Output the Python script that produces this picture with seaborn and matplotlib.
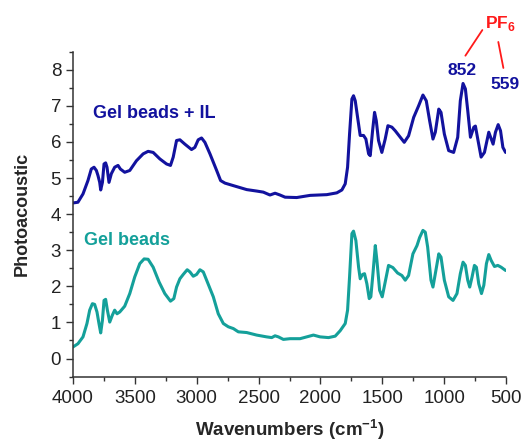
import numpy as np
import pandas as pd
import matplotlib
matplotlib.use("Agg")
import matplotlib.pyplot as plt
import seaborn as sns

# Photoacoustic FTIR spectra (wavenumber in cm-1, signal offset for display)
wn_il = [4000, 3960, 3919, 3879, 3852, 3830, 3811, 3798, 3784, 3776, 3762, 3749, 3736,
         3725, 3709, 3690, 3663, 3636, 3617, 3582, 3541, 3487, 3433, 3393, 3352, 3298,
         3244, 3212, 3190, 3163, 3136, 3096, 3042, 3015, 2988, 2961, 2934, 2893, 2839,
         2807, 2772, 2704, 2596, 2516, 2462, 2408, 2367, 2327, 2286, 2192, 2084, 1949,
         1868, 1827, 1800, 1781, 1765, 1746, 1733, 1719, 1700, 1679, 1652, 1633, 1611,
         1598, 1579, 1563, 1549, 1531, 1504, 1477, 1455, 1423, 1396, 1355, 1323, 1288,
         1247, 1207, 1172, 1145, 1118, 1091, 1072, 1044, 1026, 999, 964, 924, 891, 870,
         848, 829, 810, 788, 761, 748, 729, 702, 675, 640, 605, 586, 564, 545, 526, 504]
pa_il = [4.31, 4.33, 4.56, 4.93, 5.25, 5.30, 5.21, 5.07, 4.88, 4.67, 4.88, 5.39, 5.42,
         5.30, 4.88, 5.12, 5.30, 5.35, 5.25, 5.16, 5.21, 5.48, 5.67, 5.74, 5.71, 5.53,
         5.39, 5.35, 5.58, 6.04, 6.06, 5.94, 5.79, 5.85, 6.06, 6.11, 5.99, 5.67, 5.21,
         4.93, 4.86, 4.79, 4.68, 4.64, 4.61, 4.53, 4.58, 4.53, 4.47, 4.46, 4.52, 4.54,
         4.59, 4.67, 4.84, 5.30, 6.22, 7.19, 7.28, 7.14, 6.68, 6.18, 6.18, 6.08, 5.67,
         5.62, 6.31, 6.82, 6.59, 6.04, 5.71, 6.08, 6.45, 6.41, 6.31, 6.13, 5.99, 6.17,
         6.68, 7.00, 7.30, 7.14, 6.59, 6.08, 6.27, 6.91, 6.82, 6.22, 5.76, 5.71, 6.13, 7.14,
         7.62, 7.47, 6.87, 6.13, 6.41, 6.44, 6.08, 5.58, 5.71, 6.27, 5.94, 6.27, 6.48, 6.31, 5.85, 5.71]

wn_gel = [4000, 3960, 3919, 3887, 3865, 3843, 3825, 3806, 3790, 3776, 3762, 3749, 3736,
          3722, 3703, 3682, 3663, 3644, 3622, 3582, 3541, 3501, 3460, 3425, 3393, 3352,
          3304, 3258, 3212, 3185, 3163, 3136, 3109, 3077, 3055, 3028, 3001, 2974, 2947,
          2920, 2866, 2826, 2785, 2745, 2704, 2664, 2596, 2516, 2435, 2394, 2367, 2340,
          2300, 2246, 2165, 2111, 2057, 2003, 1935, 1881, 1841, 1800, 1781, 1765, 1746,
          1733, 1714, 1692, 1679, 1660, 1644, 1625, 1606, 1593, 1576, 1557, 1544, 1522,
          1501, 1477, 1450, 1415, 1377, 1342, 1315, 1288, 1253, 1220, 1199, 1172, 1153,
          1134, 1107, 1091, 1072, 1044, 1026, 999, 964, 929, 897, 870, 848, 829, 810, 794,
          775, 756, 740, 721, 699, 680, 659, 640, 621, 594, 567, 540, 504]
pa_gel = [0.32, 0.41, 0.60, 0.97, 1.34, 1.52, 1.50, 1.29, 0.97, 0.71, 1.06, 1.61, 1.64,
          1.34, 1.01, 1.20, 1.34, 1.24, 1.29, 1.45, 1.80, 2.26, 2.63, 2.76, 2.75, 2.53,
          2.12, 1.80, 1.59, 1.66, 1.98, 2.21, 2.33, 2.46, 2.40, 2.28, 2.33, 2.46, 2.40,
          2.17, 1.71, 1.24, 0.97, 0.88, 0.83, 0.74, 0.72, 0.65, 0.60, 0.58, 0.63, 0.60,
          0.53, 0.55, 0.55, 0.60, 0.65, 0.60, 0.58, 0.62, 0.77, 0.97, 1.34, 2.26, 3.46,
          3.53, 3.27, 2.53, 2.21, 2.33, 2.35, 2.07, 1.66, 1.71, 2.35, 3.13, 2.72, 1.89,
          1.71, 2.12, 2.58, 2.52, 2.37, 2.30, 2.17, 2.30, 2.90, 3.13, 3.35, 3.55, 3.50,
          3.09, 2.17, 1.98, 2.35, 2.90, 2.81, 2.17, 1.71, 1.61, 1.80, 2.35, 2.67, 2.58, 2.17, 1.98,
          2.26, 2.58, 2.53, 2.07, 1.80, 2.03, 2.63, 2.88, 2.72, 2.55, 2.58, 2.53, 2.44]

series_names = ["Gel beads + IL", "Gel beads"]
peak_labels = ["852", "559"]

navy = "#12129e"
teal = "#14a09a"
red = "#ff1a1a"

df = pd.concat([
    pd.DataFrame({"wn": wn_il, "pa": pa_il, "sample": series_names[0]}),
    pd.DataFrame({"wn": wn_gel, "pa": pa_gel, "sample": series_names[1]}),
])

sns.set_theme(style="ticks")
plt.rcParams["font.family"] = ["Liberation Sans", "DejaVu Sans"]
plt.rcParams["mathtext.fontset"] = "custom"
plt.rcParams["mathtext.bf"] = "Liberation Sans:bold"
plt.rcParams["mathtext.rm"] = "Liberation Sans"

fig = plt.figure(figsize=(5.25, 4.42), dpi=100)
ax = fig.add_axes([0.139, 0.148, 0.825, 0.735])

sns.lineplot(data=df, x="wn", y="pa", hue="sample", sort=False, estimator=None,
             palette={series_names[0]: navy, series_names[1]: teal},
             linewidth=2.2, legend=False, ax=ax)

ax.set_xlim(4000, 500)
ax.set_ylim(-0.5, 8.5)
ax.set_xticks(np.arange(4000, 499, -500))
ax.set_xticks(np.arange(3750, 500, -500), minor=True)
ax.set_yticks(np.arange(0, 9, 1))
ax.set_yticks(np.arange(-0.5, 8.6, 1), minor=True)
ax.tick_params(axis="both", which="major", length=5, width=1, labelsize=13.5,
               color="#333333", labelcolor="#222222", direction="out")
ax.tick_params(axis="x", which="major", pad=5)
ax.tick_params(axis="both", which="minor", length=3, width=1, color="#333333",
               direction="out")
for side in ("top", "right"):
    ax.spines[side].set_visible(False)
for side in ("left", "bottom"):
    ax.spines[side].set_color("#333333")
    ax.spines[side].set_linewidth(1.1)

ax.set_xlabel(r"Wavenumbers (cm$^{\mathbf{-1}}$)", fontsize=13.5, fontweight="bold",
              labelpad=7)
ax.set_ylabel("Photoacoustic", fontsize=13, fontweight="bold", labelpad=14)

ax.text(3347, 6.78, series_names[0], color=navy, fontsize=13, fontweight="bold",
        ha="center", va="center")
ax.text(3561, 3.27, series_names[1], color=teal, fontsize=13, fontweight="bold",
        ha="center", va="center")

# PF6 band assignments
ax.text(852, 7.97, peak_labels[0], color=navy, fontsize=12.5, fontweight="bold",
        ha="center", va="center", clip_on=False)
ax.text(512, 7.6, peak_labels[1], color=navy, fontsize=12.5, fontweight="bold",
        ha="center", va="center", clip_on=False)
ax.text(668, 9.27, r"PF$_{\mathbf{6}}$", color=red, fontsize=12.5, fontweight="bold",
        ha="left", va="center", clip_on=False)
ax.plot([829, 692], [8.39, 9.10], color=red, lw=1.3, clip_on=False)
ax.plot([563, 522], [8.77, 8.05], color=red, lw=1.3, clip_on=False)

fig.savefig("out.png", dpi=100)
